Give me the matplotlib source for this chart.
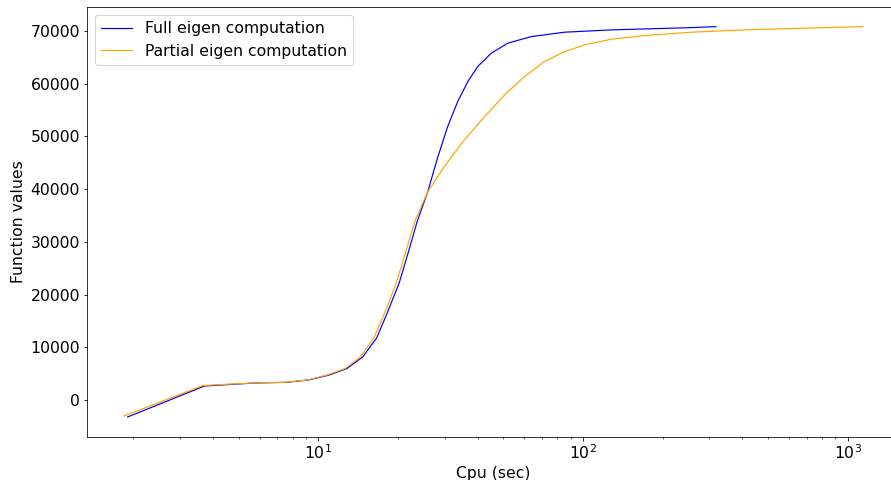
import matplotlib
matplotlib.use("Agg")
import matplotlib.pyplot as plt

# cpu time (sec) and function values
full_cpu = [1.90, 3.71, 5.8, 7.6, 9.2, 11.0, 12.8, 14.7, 16.6, 18.2, 20.2,
            22.0, 23.6, 25.9, 28.3, 30.8, 33.6, 36.7, 40.0, 45.0, 52.0,
            63.7, 85.1, 127.9, 256, 318]
full_val = [-3230, 2650, 3230, 3350, 3800, 4740, 5950, 8160, 11760, 16500,
            22200, 28460, 33800, 39520, 46170, 51860, 56600, 60400, 63250,
            65790, 67690, 68940, 69770, 70210, 70640, 70830]

partial_cpu = [1.84, 3.66, 5.7, 7.5, 9.1, 10.8, 12.6, 14.4, 16.2, 17.8, 19.7,
               21.5, 23.1, 25.9, 29.9, 35.6, 42.5, 50.5, 60.1, 71.5, 85.1,
               101.4, 127.9, 171, 256.4, 437, 1140]
partial_val = [-3050, 2750, 3230, 3350, 3800, 4740, 5950, 8160, 11760, 16500,
               22200, 28460, 33800, 39520, 44270, 49330, 53760, 57880, 61350,
               64200, 66090, 67360, 68440, 69130, 69770, 70270, 70830]

plt.rcParams['font.size'] = 15.6

fig = plt.figure(figsize=(891 / 72, 480 / 72), dpi=72)
ax = fig.add_axes([0.0976, 0.0906, 0.912, 0.8946])

ax.plot(full_cpu, full_val, color="blue", linewidth=1.2, label="Full eigen computation")
ax.plot(partial_cpu, partial_val, color="orange", linewidth=1.2, label="Partial eigen computation")

ax.set_xscale("log")
ax.set_xlabel("Cpu (sec)")
ax.set_ylabel("Function values")
ax.legend(loc="upper left")

fig.savefig("out.png", dpi=72)
